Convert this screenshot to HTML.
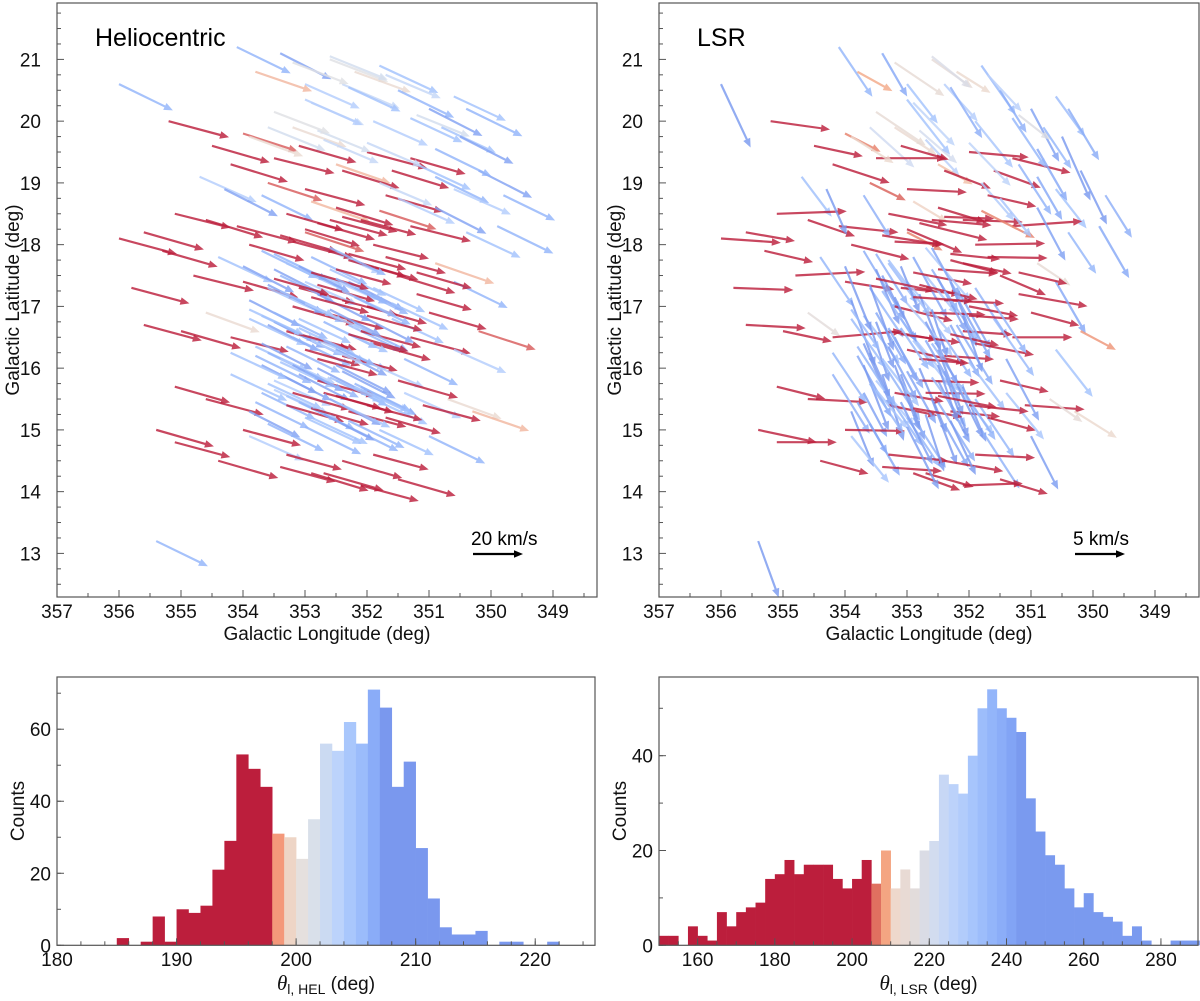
<!DOCTYPE html>
<html><head><meta charset="utf-8"><style>
body{margin:0;background:#fff}
svg{display:block;font-family:"Liberation Sans",sans-serif}
</style></head><body>
<svg id="fig" width="1200" height="1001" viewBox="0 0 1200 1001" xmlns="http://www.w3.org/2000/svg"></svg>
<script>
// ---------- data ----------
const lon = [
354.1,353.4,352.6,352.2,351.8,353.0,352.9,351.5,351.0,350.6,
352.4,351.9,351.2,350.8,350.4,353.8,353.2,352.7,353.6,356.0,
355.2,354.5,354.0,353.5,353.1,352.5,352.0,351.6,351.3,350.9,
354.7,354.2,353.6,353.0,352.4,351.8,351.2,350.6,350.2,349.8,
356.0,355.6,355.1,354.6,354.1,353.7,353.3,352.9,352.5,352.1,
351.7,351.3,350.9,350.4,349.9,354.3,353.9,353.0,352.6,351.9,
355.8,355.3,354.8,354.4,354.0,353.7,353.5,353.3,353.1,352.9,
352.7,352.5,352.3,352.1,351.9,351.7,351.5,351.2,350.9,350.6,
353.9,353.6,353.4,353.2,353.0,352.8,352.6,352.4,352.2,352.0,
355.6,355.0,354.6,354.2,353.9,353.7,353.5,353.3,353.1,352.9,
352.7,352.5,352.3,352.1,351.9,351.6,351.3,351.0,350.6,350.2,
353.8,353.6,353.4,353.2,353.0,352.8,352.6,352.4,352.2,352.0,
355.1,354.6,354.2,353.9,353.7,353.5,353.3,353.1,352.9,352.7,
352.5,352.3,352.1,351.9,351.7,351.4,351.1,350.7,350.3,353.6,
353.4,353.2,353.0,352.8,352.6,352.4,352.2,352.0,351.8,351.5,
355.4,355.1,354.4,353.9,353.4,352.9,352.4,351.9,351.5,351.0,
354.0,353.3,352.7,352.1,355.4,
353.5,353.3,353.1,352.9,352.7,352.5,352.3,353.6,353.4,353.2,
353.0,352.8,352.6,352.4,352.2,353.7,353.5,353.3,353.1,352.9,
352.7,352.5,352.3,352.1,353.8,353.6,353.4,353.2,353.0,352.8,
352.6,352.4,352.2,353.5,353.3,353.1,352.9,352.7,352.5,352.3,
353.9,353.7,353.5,353.3,353.1,352.9,352.7,352.5,352.3,352.1,
353.4,353.2,353.0,352.8,352.6,352.4,353.6,353.0,352.5,352.0,
351.6,351.4,351.2,351.8,354.2,354.0,353.8,351.5,352.0,352.8,
353.5,353.0,352.3,351.7,350.9,350.5,351.3,352.6,353.2,353.9];
const lat = [
21.2,21.1,21.0,20.8,20.9,20.6,20.3,20.5,20.2,20.4,
20.6,20.0,20.1,19.9,20.2,20.8,19.9,19.7,19.9,20.6,
20.0,19.6,19.8,19.4,19.6,19.3,19.5,19.2,19.4,19.1,
19.1,19.3,19.0,18.9,19.2,19.0,19.3,18.9,19.2,18.8,
18.1,18.2,18.5,18.4,18.3,18.8,18.5,18.7,18.6,18.4,
18.8,18.3,18.6,18.2,18.3,18.9,18.0,18.2,18.4,18.0,
17.3,17.9,17.5,17.8,17.4,17.9,17.6,17.7,17.3,17.8,
17.5,17.6,17.4,17.7,17.3,17.8,17.5,17.2,17.7,17.4,
17.1,17.3,17.5,17.0,17.4,17.2,17.6,17.1,17.3,17.0,
16.7,16.6,16.9,16.5,16.8,16.4,16.9,16.6,16.8,16.5,
16.9,16.3,16.7,16.6,16.4,16.8,16.5,16.9,16.3,16.6,
16.2,16.7,16.1,16.5,16.3,16.0,16.4,16.2,16.7,16.1,
15.7,15.5,15.9,15.3,15.6,15.8,15.4,15.9,15.2,15.6,
15.8,15.3,15.7,15.5,15.2,15.6,15.4,15.5,15.3,15.1,
15.9,15.6,15.2,15.8,15.5,15.1,15.7,15.4,15.0,15.8,
15.0,14.8,14.5,14.9,14.4,14.3,14.5,14.6,14.2,14.9,
15.0,14.6,14.3,14.1,13.2,
17.85,17.75,17.65,17.55,17.95,17.45,17.85,17.35,17.25,17.15,
17.05,17.35,16.95,17.25,17.15,16.85,16.75,16.65,16.55,16.45,
16.75,16.65,16.55,16.85,16.35,16.25,16.15,16.05,15.95,16.15,
15.85,15.95,15.75,15.65,15.55,15.45,15.35,15.25,15.45,15.15,
16.95,16.05,17.45,16.35,16.65,17.15,16.45,16.05,17.75,15.65,
18.15,18.05,18.25,18.35,17.95,18.45,15.75,15.05,15.55,16.85,
17.05,16.15,17.55,18.55,16.25,17.65,15.45,18.75,19.65,19.85,
20.15,20.35,20.55,20.75,19.55,19.75,20.05,21.05,20.95,19.75];
const thetaHel = [
206,207,201,200,205,204,203,206,207,205,203,204,202,205,206,199,200,203,202,206,
195,196,198,194,196,199,195,197,196,206,204,197,198,195,197,203,205,204,207,206,
195,196,194,197,195,206,196,199,197,195,196,194,207,205,206,207,196,198,195,194,
195,196,194,205,196,206,207,205,195,206,204,195,207,196,205,195,197,196,199,206,207,205,206,196,204,207,205,195,206,196,
195,196,200,194,205,207,206,196,205,204,195,207,206,195,196,205,195,196,204,198,206,207,205,206,196,207,205,195,206,204,
196,195,205,207,206,204,196,207,205,195,206,195,207,205,196,204,195,200,199,206,207,196,205,195,207,206,204,195,205,196,
196,195,196,204,195,197,196,195,196,206,195,195,196,195,206,
206,205,207,196,204,206,195,207,205,206,204,196,207,205,206,205,207,206,195,204,
206,205,196,207,205,206,204,207,206,195,205,207,206,204,205,206,196,207,205,206,
205,207,196,206,205,195,206,207,196,205,196,195,197,196,206,195,205,206,196,195,
205,206,196,198,205,207,206,204,203,202,201,204,205,203,206,207,205,202,201,200];
const thetaLsr = [
236,240,215,212,235,232,226,238,242,234,228,231,218,236,239,209,213,227,222,245,
188,192,207,180,196,210,185,200,194,240,233,198,206,183,201,229,237,232,244,238,
184,190,178,199,186,238,191,211,197,182,193,176,242,236,240,246,194,207,185,179,
182,193,177,236,189,239,247,234,186,241,231,184,248,192,237,181,203,190,214,240,250,236,243,194,230,249,238,183,241,191,
183,192,216,175,235,246,240,190,236,230,182,249,241,184,191,235,180,195,232,208,241,251,237,243,193,247,236,184,239,233,
194,183,238,248,242,230,192,250,237,181,243,186,247,236,195,231,184,215,212,240,252,190,236,182,249,241,232,186,237,193,
192,180,195,231,184,200,190,183,197,243,181,186,196,178,250,
238,233,248,191,230,242,186,250,236,244,229,194,252,235,241,233,249,240,188,231,
243,236,193,251,237,246,232,249,241,185,235,250,244,231,236,243,190,252,238,245,
235,249,192,242,236,184,240,251,195,237,189,183,203,194,241,182,236,243,191,184,
237,242,193,207,236,248,240,231,226,221,214,232,238,227,240,246,236,219,214,212];
const speedHel = [
24,23,25,24,26,24,23,25,24,23,25,24,23,24,25,24,23,24,25,24,
25,24,23,25,24,23,25,24,23,24,25,24,23,25,24,23,24,25,24,23,
24,25,23,24,25,23,24,25,24,23,24,25,23,24,25,24,23,25,24,23,
24,23,25,24,23,25,24,26,23,25,24,23,25,24,23,25,24,23,25,24,23,25,24,26,23,24,25,23,24,25,
24,25,23,24,25,23,24,26,23,24,25,23,24,25,24,23,25,24,23,24,25,23,24,26,23,24,25,23,24,25,
23,24,25,23,24,25,24,23,25,24,23,24,25,24,23,25,24,23,24,25,23,24,25,24,23,25,24,23,24,25,
24,23,25,24,23,24,25,23,24,25,24,23,25,24,23,
24,25,23,24,25,23,24,25,24,23,25,24,23,24,25,24,23,25,24,23,
24,23,25,24,23,25,24,23,24,25,23,24,25,24,23,25,24,23,24,25,
24,25,23,24,25,24,23,25,24,23,24,25,23,24,25,23,24,25,24,23,
25,24,23,24,25,23,24,25,24,23,24,25,23,24,25,24,23,25,24,23];
const speedLsr = [
6,5,5,4,6,5,6,5,6,5,5,6,4,5,6,4,5,5,6,7,
6,5,4,7,5,4,6,5,6,5,5,6,4,6,5,5,6,5,6,5,
6,5,7,5,6,5,6,4,5,6,5,7,6,5,6,5,6,4,6,7,
6,5,7,6,5,7,6,5,6,7,5,6,7,5,6,6,5,7,4,6,7,6,5,6,7,6,5,6,7,5,
6,5,4,7,6,7,6,5,6,7,6,7,6,5,6,7,6,5,6,4,7,6,7,5,6,7,6,5,7,6,
5,6,7,6,5,6,5,7,6,6,7,5,6,7,5,6,6,4,5,6,7,5,6,6,7,5,6,6,7,5,
6,6,5,6,6,5,6,6,5,6,6,6,5,6,6,
6,7,5,6,7,6,5,7,6,5,7,6,5,6,7,6,5,7,6,6,
7,6,5,6,7,5,6,7,6,5,6,7,6,5,6,7,5,6,7,6,
5,7,6,6,5,6,7,6,5,6,6,5,6,7,6,5,6,7,6,5,
6,7,5,6,6,7,6,5,6,5,6,7,6,5,6,7,6,5,6,5];
const helStart = 185, helWidth = 1;
const helCounts = [2,0,1,8,1,10,9,11,21,29,53,49,44,31,30,24,35,56,54,62,56,71,66,44,51,27,13,5,3,3,4,0,1,1,0,0,1];
const lsrStart = 150, lsrWidth = 2.5;
const lsrCounts = [2,2,0,4,2,1,7,4,7,8,9,14,15,18,15,17,17,17,14,12,14,18,13,20,12,16,12,20,22,36,34,32,40,50,54,50,48,45,31,24,19,17,12,8,11,7,6,5,2,4,1,0,0,1,1,1];
const helTicksX = [180,190,200,210,220], helTicksY = [0,20,40,60];
const lsrTicksX = [160,180,200,220,240,260,280], lsrTicksY = [0,20,40];
const lonTicks = [357,356,355,354,353,352,351,350,349];
const latTicks = [13,14,15,16,17,18,19,20,21];

// ---------- helpers ----------
const NS = "http://www.w3.org/2000/svg";
const svg = document.getElementById('fig');
const FS = 19;
function mk(tag, attrs, parent){const e=document.createElementNS(NS,tag);for(const k in attrs)e.setAttribute(k,attrs[k]);(parent||svg).appendChild(e);return e;}
function hex2rgb(h){return [parseInt(h.slice(1,3),16),parseInt(h.slice(3,5),16),parseInt(h.slice(5,7),16)];}
function cmap(stops, v){
  if(v<=stops[0][0])return stops[0][1];
  if(v>=stops[stops.length-1][0])return stops[stops.length-1][1];
  for(let i=0;i<stops.length-1;i++){if(v>=stops[i][0]&&v<=stops[i+1][0]){
    const t=(v-stops[i][0])/(stops[i+1][0]-stops[i][0]);const a=hex2rgb(stops[i][1]),b=hex2rgb(stops[i+1][1]);
    return 'rgb('+a.map((x,j)=>Math.round(x+(b[j]-x)*t)).join(',')+')';}}
}
const helStops=[[197.5,'#bc1e3c'],[198.5,'#f4987a'],[199.5,'#eed5c6'],[200.5,'#e5e0de'],[201.5,'#d9e0ea'],[202.5,'#cbdaf2'],[203.5,'#bcd3fb'],[204.5,'#a9c7fc'],[205.5,'#9bbcfb'],[206.5,'#8aacf8'],[207.5,'#7a98ee']];
const lsrStops=[[205,'#bc1e3c'],[206.25,'#e07060'],[208.75,'#f4a582'],[211.25,'#eed8cc'],[216.25,'#e2dcdb'],[221.25,'#d2dcef'],[226.25,'#bcd2fa'],[231.25,'#a7c5fc'],[236.25,'#93b5fa'],[241.25,'#82a4f5'],[243.75,'#7a9aef']];

function arrowPts(x,y,ang,L){
  const a=ang*Math.PI/180, ux=Math.cos(a), uy=Math.sin(a), px=-uy, py=ux;
  const sw=1.1, hw=3.8, hl=Math.min(9,L*0.45);
  const bx=x+ux*(L-hl), by=y+uy*(L-hl), tx=x+ux*L, ty=y+uy*L;
  const P=[[x+px*sw,y+py*sw],[bx+px*sw,by+py*sw],[bx+px*hw,by+py*hw],[tx,ty],[bx-px*hw,by-py*hw],[bx-px*sw,by-py*sw],[x-px*sw,y-py*sw]];
  return P.map(p=>p[0].toFixed(1)+','+p[1].toFixed(1)).join(' ');
}

function quiverPanel(x0, title, theta, speed, pxPerUnit, stops, refSpeed, refLabel, pname){
  const X0=x0, X1=x0+540, Y0=3, Y1=597;
  const sx=l=>X0+(357-l)*62.0;
  const sy=b=>59.4+(21-b)*61.75;
  const g=mk('g',{});
  
  
  const clip=mk('clipPath',{id:'c'+pname},g);mk('rect',{x:X0,y:Y0,width:X1-X0,height:Y1-Y0},clip);
  const ag=mk('g',{'clip-path':'url(#c'+pname+')'},g);
  const n=Math.min(lon.length,lat.length,theta.length,speed.length);
  for(let i=0;i<n;i++){
    const p=mk('polygon',{points:arrowPts(sx(lon[i]),sy(lat[i]),theta[i]-180,speed[i]*pxPerUnit),fill:cmap(stops,theta[i]),'fill-opacity':0.82},ag);
    
    
  }
  const fr=mk('rect',{x:X0,y:Y0,width:X1-X0,height:Y1-Y0,fill:'none',stroke:'#555','stroke-width':1.2},g);
  
  for(let v=357;v>=348.3;v-=0.5){const x=sx(v);const maj=Math.abs(v-Math.round(v))<1e-6;mk('line',{x1:x,x2:x,y1:Y1,y2:Y1-(maj?7:4),stroke:'#555'},g);}
  for(let v=12.5;v<=21.8;v+=0.25){const y=sy(v);const maj=Math.abs(v-Math.round(v))<1e-6;mk('line',{x1:X0,x2:X0+(maj?7:4),y1:y,y2:y,stroke:'#555'},g);}
  lonTicks.forEach(v=>{const t=mk('text',{x:sx(v),y:618,'font-size':FS,'text-anchor':'middle',fill:'#111'},g);t.textContent=v;});
  latTicks.forEach(v=>{const t=mk('text',{x:X0-16,y:sy(v)+7,'font-size':FS,'text-anchor':'end',fill:'#111'},g);t.textContent=v;});
  const xl=mk('text',{x:X0+270,y:640,'font-size':FS,'text-anchor':'middle',fill:'#111'},g);xl.textContent='Galactic Longitude (deg)';
  
  const yl=mk('text',{x:0,y:0,'font-size':FS,'text-anchor':'middle',fill:'#111',transform:'translate('+(X0-32)+',300) rotate(-90)'},g);yl.textContent='Galactic Latitude (deg)';
  yl.setAttribute('transform','translate('+(X0-38)+',300) rotate(-90)');
  
  const tt=mk('text',{x:X0+38,y:46,'font-size':25,fill:'#000'},g);tt.textContent=title;
  
  const ra=mk('polygon',{points:arrowPts(X0+416,554,0,refSpeed*pxPerUnit),fill:'#000'},g);
  
  const rl=mk('text',{x:X0+414,y:545,'font-size':FS,fill:'#000'},g);rl.textContent=refLabel;
  
}
quiverPanel(57,'Heliocentric',thetaHel,speedHel,2.5,helStops,20,'20 km/s','heliocentric-quiver');
quiverPanel(659,'LSR',thetaLsr,speedLsr,10,lsrStops,5,'5 km/s','lsr-quiver');

function histPanel(X0,X1,xmin,xmax,ymax,start,width,counts,stops,ticksX,ticksY,minX,minY,label,sub,pname){
  const Y0=677, Y1=945.3;
  const sx=v=>X0+(v-xmin)/(xmax-xmin)*(X1-X0);
  const sy=v=>Y1-v/ymax*(Y1-Y0);
  const g=mk('g',{});
  
  
  counts.forEach((c,i)=>{
    if(c<=0)return;
    const a=start+i*width, b=a+width;
    const r=mk('rect',{x:sx(a),y:sy(c),width:sx(b)-sx(a)+0.3,height:Y1-sy(c),fill:cmap(stops,a+width/2)},g);
    
    
  });
  mk('rect',{x:X0,y:Y0,width:X1-X0,height:Y1-Y0,fill:'none',stroke:'#555','stroke-width':1.2},g);
  for(let v=xmin;v<=xmax+1e-6;v+=minX){const x=sx(v);mk('line',{x1:x,x2:x,y1:Y1,y2:Y1-4,stroke:'#555'},g);}
  ticksX.forEach(v=>{const x=sx(v);mk('line',{x1:x,x2:x,y1:Y1,y2:Y1-7,stroke:'#555'},g);
    const t=mk('text',{x:x,y:966,'font-size':FS,'text-anchor':'middle',fill:'#111'},g);t.textContent=v;});
  for(let v=0;v<=ymax;v+=minY){const y=sy(v);mk('line',{x1:X0,x2:X0+4,y1:y,y2:y,stroke:'#555'},g);}
  ticksY.forEach(v=>{const y=sy(v);mk('line',{x1:X0,x2:X0+7,y1:y,y2:y,stroke:'#555'},g);
    const t=mk('text',{x:X0-6,y:y+7,'font-size':FS,'text-anchor':'end',fill:'#111'},g);t.textContent=v;});
  const xl=mk('text',{x:(X0+X1)/2,y:990,'font-size':FS,'text-anchor':'middle',fill:'#111'},g);
  
  const th=mk('tspan',{'font-style':'italic','font-family':'"Liberation Serif",serif','font-size':21},xl);th.textContent='θ';
  const sb=mk('tspan',{'font-size':14,dy:4},xl);sb.textContent=sub;
  const rest=mk('tspan',{dy:-4},xl);rest.textContent=' (deg)';
  const yl=mk('text',{x:0,y:0,'font-size':FS,'text-anchor':'middle',fill:'#111',transform:'translate(24,811) rotate(-90)'},g);yl.textContent=label;
  if(X0>600)yl.setAttribute('transform','translate(626,811) rotate(-90)');
  
}
histPanel(57,595,180,225,74.5,helStart,helWidth,helCounts,helStops,helTicksX,helTicksY,2,10,'Counts','l, HEL','heliocentric-histogram');
histPanel(659,1198,150,289.6,56.6,lsrStart,lsrWidth,lsrCounts,lsrStops,lsrTicksX,lsrTicksY,5,10,'Counts','l, LSR','lsr-histogram');
</script>
</body></html>
